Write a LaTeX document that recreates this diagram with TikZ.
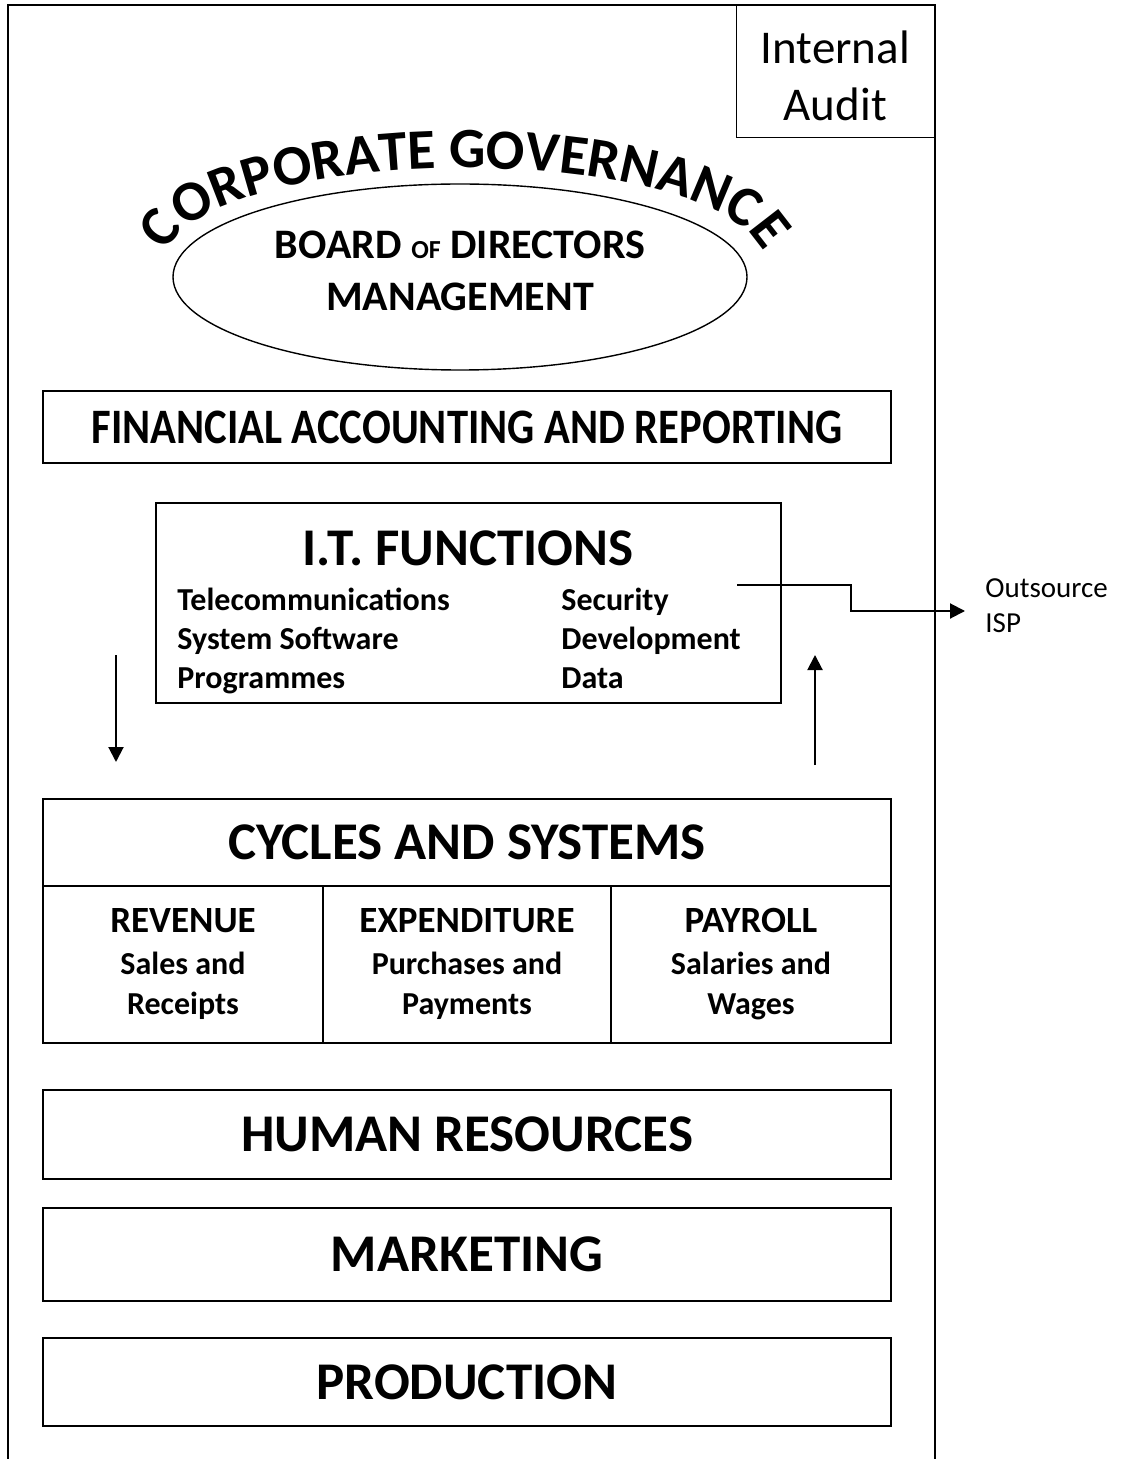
\documentclass[tikz,border=0pt]{standalone}
\usepackage{fontspec}
\setmainfont{Carlito}
\newfontfamily\narrowfont{Carlito}[FakeStretch=0.86]
\usetikzlibrary{positioning,arrows.meta,decorations.text,shapes.geometric}

\begin{document}
\begin{tikzpicture}[x=0.5pt, y=0.5pt, >={Triangle[length=7.5pt,width=7.5pt]},
    wide/.style={draw, line width=0.7pt, minimum width=424pt, inner sep=0pt, outer sep=0pt},
    cell/.style={draw, line width=0.7pt, minimum height=78.5pt, inner sep=0pt, outer sep=0pt, align=center, font=\fontsize{16}{20}\selectfont\bfseries},
    head/.style={font=\fontsize{26.5}{30}\selectfont\bfseries},
    item/.style={anchor=base west, inner sep=0pt, font=\fontsize{16}{18}\selectfont\bfseries},
    line/.style={draw, ->, line width=1pt}]

    \useasboundingbox (0,0) rectangle (1123,-1459);

    % outer frame and internal audit
    \draw[line width=1pt] (8,-1459) -- (8,-5) -- (935,-5) -- (935,-1459);
    \node[draw, line width=0.7pt, minimum width=99pt, minimum height=66pt, anchor=north east] (audit) at (935,-5) {};
    \node[align=center, font=\fontsize{23.5}{28.5}\selectfont] (audittxt) at ([yshift=-2pt]audit.center) {Internal\\Audit};

    % corporate governance
    \node[draw, ellipse, line width=0.7pt, minimum width=287pt, minimum height=93pt] (board) at (460,-277) {};
    \node[align=center, font=\fontsize{21}{26}\selectfont\bfseries] (boardtxt) at (460,-271) {BOARD {\fontsize{13}{13}\selectfont OF} DIRECTORS\\MANAGEMENT};
    \path[decorate, decoration={text along path, text align=center, text={|\fontsize{28.5}{32}\selectfont\bfseries|CORPORATE GOVERNANCE}}]
        (465,-263) ++(180:300 and 95) arc[start angle=180, end angle=0, x radius=300, y radius=95];

    \node[wide, minimum height=36pt, font=\narrowfont\fontsize{24.8}{28}\selectfont\bfseries] (fin) at (467,-427) {FINANCIAL ACCOUNTING AND REPORTING};

    % i.t. functions
    \node[draw, line width=0.7pt, minimum width=312.5pt, minimum height=100pt] (it) at (468.5,-603) {};
    \node[head] (ittitle) at (468,-548) {I.T. FUNCTIONS};
    \node[item] (tele) at (177,-610) {Telecommunications};
    \node[item] (syssw) at (177,-649) {System Software};
    \node[item] (prog) at (177,-688) {Programmes};
    \node[item] (sec) at (561,-610) {Security};
    \node[item] (dev) at (561,-649) {Development};
    \node[item] (data) at (561,-688) {Data};

    \coordinate (itout) at (737,-585);
    \coordinate (ispin) at (965,-611);
    \path[line] (itout) -- ++(114,0) |- (ispin);
    \node[anchor=north west, align=left, inner sep=0pt, font=\fontsize{14.5}{17.5}\selectfont] (isp) at (985,-578) {Outsource\\ISP};

    \coordinate (dtop) at (116,-655);
    \coordinate (dbot) at (116,-762);
    \path[line] (dtop) -- (dbot);
    \coordinate (ubot) at (815,-765);
    \coordinate (utop) at (815,-655);
    \path[line] (ubot) -- (utop);

    % cycles and systems
    \node[wide, minimum height=43.5pt, head] (cyc) at (467,-842.5) {CYCLES AND SYSTEMS};
    \node[cell, minimum width=140pt, anchor=north west] (rev) at (cyc.south west) {{\fontsize{18.5}{20}\selectfont REVENUE}\\[1pt]Sales and\\Receipts};
    \node[cell, minimum width=144pt, right=0pt of rev] (exp) {{\fontsize{18.5}{20}\selectfont EXPENDITURE}\\[1pt]Purchases and\\Payments};
    \node[cell, minimum width=140pt, right=0pt of exp] (pay) {{\fontsize{18.5}{20}\selectfont PAYROLL}\\[1pt]Salaries and\\Wages};

    \node[wide, minimum height=44.5pt, head, below=23.5pt of exp] (hr) {HUMAN RESOURCES};
    \node[wide, minimum height=46.5pt, head, below=14.5pt of hr] (mkt) {MARKETING};
    \node[wide, minimum height=44pt, head, below=18.5pt of mkt] (prod) {PRODUCTION};
\end{tikzpicture}
\end{document}
